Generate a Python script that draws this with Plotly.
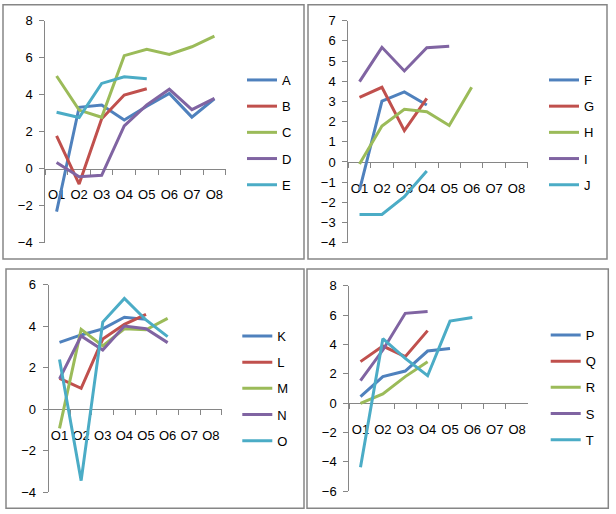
import plotly.graph_objects as go

W, H = 616, 514

categories = ["O1", "O2", "O3", "O4", "O5", "O6", "O7", "O8"]

# Panel 1
A = [-2.32, 3.32, 3.44, 2.63, 3.38, 4.07, 2.79, 3.78]
B = [1.77, -0.83, 2.70, 3.98, 4.32]
C = [5.01, 3.17, 2.78, 6.11, 6.45, 6.18, 6.59, 7.17]
D = [0.34, -0.43, -0.36, 2.31, 3.45, 4.30, 3.19, 3.80]
E = [3.05, 2.77, 4.61, 4.97, 4.86]
# Panel 2
F = [-1.39, 3.02, 3.47, 2.82]
G = [3.20, 3.70, 1.55, 3.15]
Hs = [-0.10, 1.78, 2.61, 2.49, 1.81, 3.70]
I = [3.98, 5.68, 4.51, 5.66, 5.73]
J = [-2.60, -2.60, -1.72, -0.45]
# Panel 3
K = [3.22, 3.58, 3.87, 4.43, 4.33]
L = [1.49, 1.01, 3.38, 4.09, 4.57]
M = [-0.92, 3.85, 3.05, 3.88, 3.83, 4.38]
N = [1.46, 3.53, 2.85, 4.01, 3.88, 3.21]
O = [2.40, -3.44, 4.20, 5.34, 4.30, 3.50]
# Panel 4
P = [0.44, 1.81, 2.19, 3.55, 3.73]
Q = [2.83, 3.89, 3.17, 4.94]
R = [-0.01, 0.63, 1.81, 2.83]
S = [1.53, 3.62, 6.12, 6.25]
T = [-4.37, 4.39, 3.05, 1.87, 5.59, 5.84]

panel_series = [
    [("A", A), ("B", B), ("C", C), ("D", D), ("E", E)],
    [("F", F), ("G", G), ("H", Hs), ("I", I), ("J", J)],
    [("K", K), ("L", L), ("M", M), ("N", N), ("O", O)],
    [("P", P), ("Q", Q), ("R", R), ("S", S), ("T", T)],
]
y_ranges = [(-4, 8), (-4, 7), (-4, 6), (-6, 8)]
y_dticks = [2, 1, 2, 2]

colors = ["#4F81BD", "#C0504D", "#9BBB59", "#8064A2", "#4BACC6"]

# layout geometry in pixels
plot_x = [(45.3, 225.7), (348.3, 527.7), (48.7, 221.7), (349.3, 528.3)]
plot_y = [(20.7, 242.7), (20.7, 242.7), (284.7, 492.3), (285.7, 491.3)]
legend_pos = [(242, 65), (544, 65), (237.3, 321), (545.7, 320)]
frames = [(3, 4.7, 304, 259), (308, 4.7, 607, 259), (6, 269, 304, 508.3), (307, 269, 608.3, 508.3)]

FONT = "Liberation Sans"
FS = 13
AXC = "#868686"

fig = go.Figure()
layout = dict(
    width=W, height=H, margin=dict(l=0, r=0, t=0, b=0, pad=0, autoexpand=False),
    paper_bgcolor="white", plot_bgcolor="rgba(0,0,0,0)",
    font=dict(family=FONT, size=FS, color="black"),
    showlegend=True, shapes=[],
)

for k in range(4):
    suf = "" if k == 0 else str(k + 1)
    xa, ya = "x" + suf, "y" + suf
    leg = "legend" + suf
    for j, (name, vals) in enumerate(panel_series[k]):
        fig.add_trace(go.Scatter(
            x=categories[:len(vals)], y=vals, name=name, mode="lines",
            line=dict(color=colors[j], width=3),
            xaxis=xa, yaxis=ya, legend=leg, legendgroup=name + str(k),
            hoverinfo="skip",
        ))
    x0, x1 = plot_x[k]
    ytop, ybot = plot_y[k]
    xd = [x0 / W, x1 / W]
    yd = [1 - ybot / H, 1 - ytop / H]
    ymin, ymax = y_ranges[k]
    pos0 = yd[0] + (0 - ymin) / (ymax - ymin) * (yd[1] - yd[0])
    layout["xaxis" + suf] = dict(
        domain=xd, type="category", categoryorder="array", categoryarray=categories,
        range=[-0.5, 7.5], anchor="free", position=pos0,
        showline=True, linecolor=AXC, linewidth=1,
        ticks="outside", tickson="boundaries", ticklen=5, tickcolor=AXC, tickwidth=1,
        showgrid=False, zeroline=False, layer="below traces",
        tickangle=0, ticklabelstandoff=14, automargin=False,
    )
    layout["yaxis" + suf] = dict(
        domain=yd, range=[ymin, ymax], dtick=y_dticks[k], tick0=0,
        anchor=xa, showline=True, linecolor=AXC, linewidth=1,
        ticks="outside", ticklen=5, tickcolor=AXC, tickwidth=1,
        showgrid=False, zeroline=False, layer="below traces",
        ticklabelstandoff=4, automargin=False,
    )
    lx, ly = legend_pos[k]
    layout[leg] = dict(
        x=lx / W, y=1 - ly / H, xanchor="left", yanchor="top",
        bgcolor="rgba(0,0,0,0)", borderwidth=0, traceorder="grouped",
        tracegroupgap=6.3,
        itemclick=False, itemdoubleclick=False,
    )
    fx0, fy0, fx1, fy1 = frames[k]
    layout["shapes"].append(dict(
        type="rect", xref="paper", yref="paper",
        x0=fx0 / W, x1=fx1 / W, y0=1 - fy1 / H, y1=1 - fy0 / H,
        line=dict(color=AXC, width=1.5), fillcolor="rgba(0,0,0,0)", layer="below",
    ))

fig.update_layout(**layout)
fig.write_html(
    "out.html",
    config={"displayModeBar": False},
    post_script="document.body.style.margin='0';document.body.style.overflow='hidden';",
)
